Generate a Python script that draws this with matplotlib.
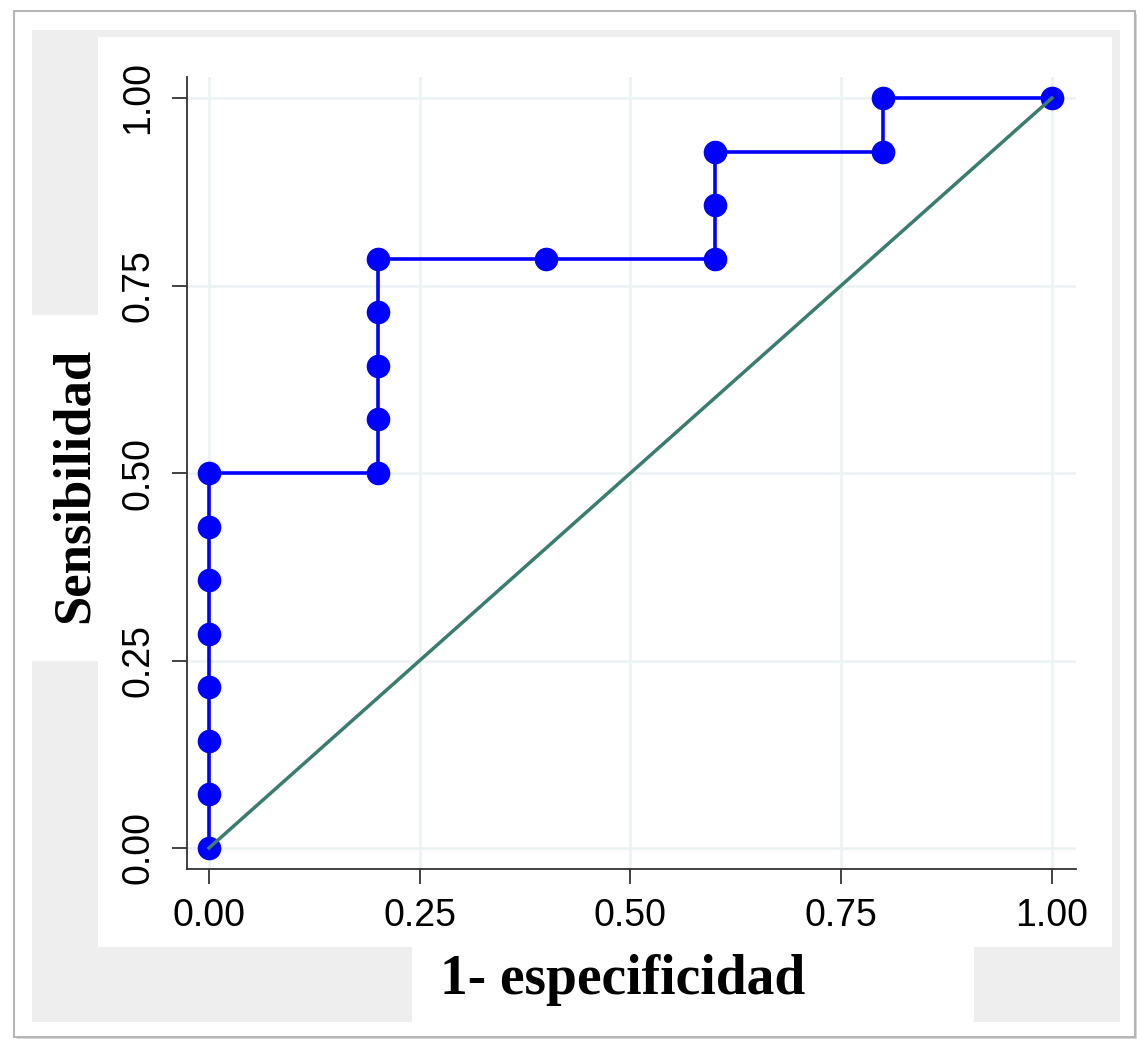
import matplotlib
matplotlib.use("Agg")
import matplotlib.pyplot as plt
from matplotlib.patches import Rectangle

# curva ROC (1 - especificidad, sensibilidad)
fpr = [0.0, 0.0, 0.0, 0.0, 0.0, 0.0, 0.0, 0.0,
       0.2, 0.2, 0.2, 0.2, 0.2,
       0.4,
       0.6, 0.6, 0.6,
       0.8, 0.8,
       1.0]
tpr = [0.0, 0.0714, 0.1429, 0.2143, 0.2857, 0.3571, 0.4286, 0.5,
       0.5, 0.5714, 0.6429, 0.7143, 0.7857,
       0.7857,
       0.7857, 0.8571, 0.9286,
       0.9286, 1.0,
       1.0]
ref_x = [0.0, 1.0]
ref_y = [0.0, 1.0]
ticks = [0.0, 0.25, 0.5, 0.75, 1.0]
tick_labels = ["0.00", "0.25", "0.50", "0.75", "1.00"]

W, H = 1137, 1039
fig = plt.figure(figsize=(W / 100, H / 100), dpi=100)
fig.patch.set_facecolor("white")


def box(x0, y0, x1, y1, **kw):
    # rectangulo en pixeles de la imagen
    r = Rectangle((x0 / W, 1 - y1 / H), (x1 - x0) / W, (y1 - y0) / H,
                  transform=fig.transFigure, zorder=-5, **kw)
    fig.add_artist(r)


# marco exterior con sombra
box(17, 14, 1139, 1040, facecolor="#d8d8d8", edgecolor="none")
box(14, 11, 1135, 1037, facecolor="white", edgecolor="#b5b5b5", lw=1.5)
# region gris del grafico y zonas blancas
box(32, 30, 1120, 1022, facecolor="#eeeeee", edgecolor="none")
box(98, 37, 1112, 947, facecolor="white", edgecolor="none")
box(32, 315, 98, 661, facecolor="white", edgecolor="none")
box(412, 947, 974, 1022, facecolor="white", edgecolor="none")

ax = fig.add_axes([187 / W, 1 - 869 / H, (1076 - 187) / W, (869 - 77) / H])
ax.set_facecolor("none")
ax.set_xlim(-0.0261, 1.0285)
ax.set_ylim(-0.028, 1.028)

ax.set_xticks(ticks)
ax.set_yticks(ticks)
ax.set_xticklabels(tick_labels)
ax.set_yticklabels(tick_labels, rotation=90, va="center")
ax.tick_params(axis="both", direction="out", length=11, width=1.3,
               color="#333333", labelsize=27, labelcolor="black")
ax.tick_params(axis="x", pad=10)
ax.tick_params(axis="y", pad=11)
for lab in ax.get_xticklabels() + ax.get_yticklabels():
    lab.set_family("Liberation Sans")

for s in ["top", "right"]:
    ax.spines[s].set_visible(False)
for s in ["left", "bottom"]:
    ax.spines[s].set_color("#333333")
    ax.spines[s].set_linewidth(1.3)

ax.grid(True, color="#eaf2f3", linewidth=1.8)
ax.set_axisbelow(True)

ax.plot(fpr, tpr, color="#0000ff", linewidth=2.6, marker="o",
        markersize=17, markeredgewidth=0, zorder=3, clip_on=False)
ax.plot(ref_x, ref_y, color="#3a7d6e", linewidth=2.5, zorder=4,
        clip_on=False)

fig.text(623 / W, 1 - 980 / H, "1- especificidad", ha="center", va="center",
         fontsize=40, fontweight="bold", family="Liberation Serif")
fig.text(75 / W, 1 - 485 / H, "Sensibilidad", ha="center", va="center",
         rotation=90, fontsize=38, fontweight="bold",
         family="Liberation Serif")

fig.savefig("out.png", dpi=100)
